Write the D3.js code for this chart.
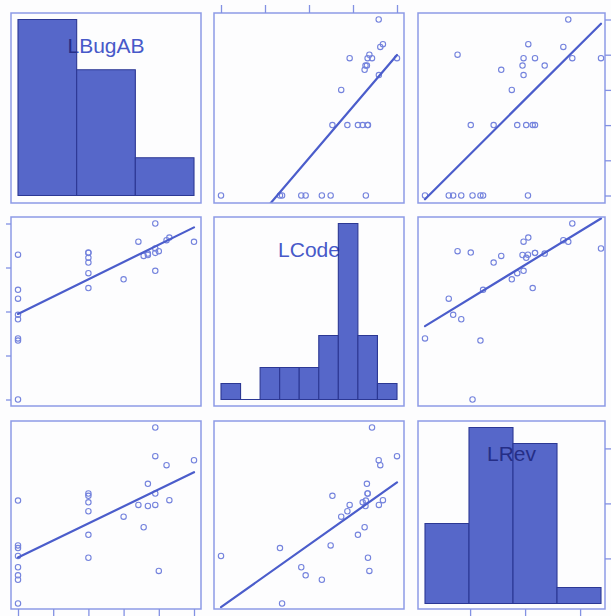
<!DOCTYPE html>
<html>
<head>
<meta charset="utf-8">
<script src="https://cdn.jsdelivr.net/npm/d3@7"></script>
<style>
  html, body { margin: 0; padding: 0; background: #fdfdfe; }
  svg { display: block; }
</style>
</head>
<body>
<svg id="chart" width="611" height="616"></svg>
<script>
// Variable names (diagonal labels)
const varNames = ["LBugAB", "LCode", "LRev"];

// Observations: log2 bug count, log code size, log revisions
const lbugab = [0, 0, 0, 0, 0, 0, 0, 0,
                2, 2, 2, 2, 2, 2,
                3, 3.42, 3.57, 3.69, 3.69,
                3.90, 3.90, 3.90, 3.90, 4.0, 4.22, 4.30, 5.0];
const lcode = [6.0, 7.34, 7.388, 7.824, 7.924, 8.292, 8.492, 9.292,
               8.532, 8.872, 9.112, 9.22, 9.332, 9.34,
               8.732, 9.588, 9.264, 9.284, 9.316,
               8.924, 9.332, 10.0, 9.432, 9.372, 9.62, 9.68, 9.584];
const lrev = [3.044, 3.188, 2.18, 2.839, 2.692, 2.612, 3.236, 4.052,
              4.138, 3.857, 3.428, 4.02, 4.18, 3.012,
              3.758, 3.972, 3.566, 3.953, 4.356,
              3.972, 4.18, 4.858, 5.38, 2.772, 4.695, 4.058, 4.785];

// Histogram bin counts for the diagonal panels
const lbugabCounts = [14, 10, 3];
const lcodeCounts = [1, 0, 2, 2, 2, 4, 11, 4, 1];
const lrevCounts = [5, 11, 10, 1];

// Axis tick values
const lbugabTicks = [0, 1, 2, 3, 4, 5];
const lcodeTicks = [6, 7, 8, 9, 10];
const lrevTicks = [3, 4, 5];

const vars = [lbugab, lcode, lrev];
const counts = [lbugabCounts, lcodeCounts, lrevCounts];
const ticks = [lbugabTicks, lcodeTicks, lrevTicks];

// Panel frames
const colFrames = [[11, 201], [214, 404], [418, 605]];
const rowFrames = [[13, 203], [217, 406], [421, 609]];

const C = {
  frame: "#8d9ae6",
  tick: "#8391e3",
  point: "#7483dd",
  line: "#4b5dcb",
  bar: "#5667c9",
  barStroke: "#2c3894",
  label: "#4759c9",
  labelDark: "#252e86"
};

const svg = d3.select("#chart");

const xs = vars.map((v, j) => d3.scaleLinear()
  .domain(d3.extent(v))
  .range([colFrames[j][0] + 7, colFrames[j][0] + 183]));
const ys = vars.map((v, i) => d3.scaleLinear()
  .domain(d3.extent(v))
  .range([rowFrames[i][0] + 182.5, rowFrames[i][0] + 6.5]));

const defs = svg.append("defs");

function ols(x, y) {
  const mx = d3.mean(x), my = d3.mean(y);
  let sxy = 0, sxx = 0;
  x.forEach((xv, k) => { sxy += (xv - mx) * (y[k] - my); sxx += (xv - mx) ** 2; });
  const b = sxy / sxx;
  return { a: my - b * mx, b };
}

for (let i = 0; i < 3; i++) {
  for (let j = 0; j < 3; j++) {
    const [x0, x1] = colFrames[j];
    const [y0, y1] = rowFrames[i];
    const g = svg.append("g");
    const clipId = `clip-${i}-${j}`;
    defs.append("clipPath").attr("id", clipId)
      .append("rect").attr("x", x0).attr("y", y0)
      .attr("width", x1 - x0).attr("height", y1 - y0);

    if (i === j) {
      // Histogram on the diagonal
      const x = xs[j];
      const [lo, hi] = x.domain();
      const cnt = counts[j];
      const k = cnt.length;
      const edges = d3.range(k + 1).map(e => lo + e * (hi - lo) / k);
      const hy = d3.scaleLinear().domain([0, d3.max(cnt)])
        .range([y0 + 182.5, y0 + 6.5]);
      const bars = cnt.map((c, b) => ({ a: edges[b], b: edges[b + 1], c }));
      const barPath = d => `M${x(d.a)},${hy(0)}H${x(d.b)}V${hy(d.c)}H${x(d.a)}Z`;

      const cx = (x0 + x1) / 2, ty = y0 + 39.5;
      g.append("text")
        .attr("x", cx).attr("y", ty)
        .attr("text-anchor", "middle")
        .attr("font-family", "'Liberation Sans', Arial, sans-serif")
        .attr("font-size", 21)
        .attr("fill", C.label)
        .text(varNames[j]);

      g.selectAll("path.bar").data(bars).join("path")
        .attr("class", "bar")
        .attr("d", barPath)
        .attr("fill", C.bar)
        .attr("stroke", C.barStroke)
        .attr("stroke-width", 1.1);

      // Label portion that sits over the bars is drawn darker
      const barClip = `barclip-${j}`;
      defs.append("clipPath").attr("id", barClip)
        .selectAll("path").data(bars).join("path").attr("d", barPath);
      g.append("text")
        .attr("x", cx).attr("y", ty)
        .attr("text-anchor", "middle")
        .attr("font-family", "'Liberation Sans', Arial, sans-serif")
        .attr("font-size", 21)
        .attr("fill", C.labelDark)
        .attr("clip-path", `url(#${barClip})`)
        .text(varNames[j]);
    } else {
      const x = xs[j], y = ys[i];
      const xv = vars[j], yv = vars[i];
      g.selectAll("circle").data(xv.map((d, k) => [d, yv[k]])).join("circle")
        .attr("cx", d => x(d[0]))
        .attr("cy", d => y(d[1]))
        .attr("r", 2.7)
        .attr("fill", "none")
        .attr("stroke", C.point)
        .attr("stroke-width", 1.1);

      const fit = ols(xv, yv);
      const [lo, hi] = d3.extent(xv);
      g.append("line")
        .attr("clip-path", `url(#${clipId})`)
        .attr("x1", x(lo)).attr("y1", y(fit.a + fit.b * lo))
        .attr("x2", x(hi)).attr("y2", y(fit.a + fit.b * hi))
        .attr("stroke", C.line)
        .attr("stroke-width", 2.2)
        .attr("stroke-linecap", "round");
    }

    g.append("rect")
      .attr("x", x0).attr("y", y0)
      .attr("width", x1 - x0).attr("height", y1 - y0)
      .attr("fill", "none")
      .attr("stroke", C.frame)
      .attr("stroke-width", 1.5);
  }
}

// Outer axes, alternating sides
function styleAxis(sel) {
  sel.select(".domain").remove();
  sel.selectAll(".tick line").attr("stroke", C.tick).attr("stroke-width", 1.3);
}
svg.append("g").attr("transform", `translate(0,${rowFrames[0][0]})`)
  .call(d3.axisTop(xs[1]).tickValues(ticks[1]).tickSize(8).tickFormat(""))
  .call(styleAxis);
svg.append("g").attr("transform", `translate(0,${rowFrames[2][1]})`)
  .call(d3.axisBottom(xs[0]).tickValues(ticks[0]).tickSize(7).tickFormat(""))
  .call(styleAxis);
svg.append("g").attr("transform", `translate(0,${rowFrames[2][1]})`)
  .call(d3.axisBottom(xs[2]).tickValues(ticks[2]).tickSize(7).tickFormat(""))
  .call(styleAxis);
svg.append("g").attr("transform", `translate(${colFrames[0][0]},0)`)
  .call(d3.axisLeft(ys[1]).tickValues(ticks[1]).tickSize(5).tickFormat(""))
  .call(styleAxis);
svg.append("g").attr("transform", `translate(${colFrames[2][1]},0)`)
  .call(d3.axisRight(ys[0]).tickValues(ticks[0]).tickSize(6).tickFormat(""))
  .call(styleAxis);
svg.append("g").attr("transform", `translate(${colFrames[2][1]},0)`)
  .call(d3.axisRight(ys[2]).tickValues(ticks[2]).tickSize(6).tickFormat(""))
  .call(styleAxis);
</script>
</body>
</html>
